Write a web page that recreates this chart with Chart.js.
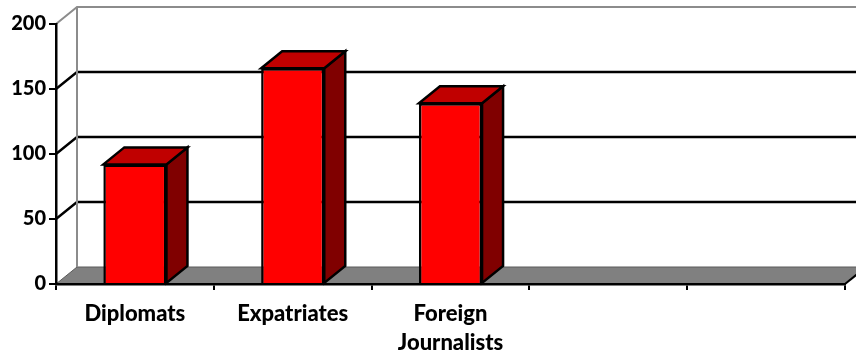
<!DOCTYPE html>
<html>
<head>
<meta charset="utf-8">
<script src="https://cdn.jsdelivr.net/npm/chart.js@4"></script>
<style>
  html, body { margin: 0; padding: 0; background: #fff; }
</style>
</head>
<body>
<canvas id="group-chart" width="856" height="358"></canvas>
<script>
// categories and values
const categories = ["Diplomats", "Expatriates", ["Foreign", "Journalists"], "", ""];
const counts = [92, 166, 139, null, null];
const yTicks = [0, 50, 100, 150, 200];

// depth of the 3d box (walls, floor, bars)
const DX = 21;
const DY = -17;

function poly(ctx, pts, fill, stroke, width) {
  ctx.beginPath();
  ctx.moveTo(pts[0][0], pts[0][1]);
  for (let i = 1; i < pts.length; i++) ctx.lineTo(pts[i][0], pts[i][1]);
  ctx.closePath();
  if (fill) { ctx.fillStyle = fill; ctx.fill(); }
  if (stroke) { ctx.strokeStyle = stroke; ctx.lineWidth = width; ctx.stroke(); }
}

function line(ctx, pts, color, width) {
  ctx.beginPath();
  ctx.moveTo(pts[0][0], pts[0][1]);
  for (let i = 1; i < pts.length; i++) ctx.lineTo(pts[i][0], pts[i][1]);
  ctx.strokeStyle = color;
  ctx.lineWidth = width;
  ctx.stroke();
}

// walls + floor, drawn before the axes
const box3d = {
  id: "box3d",
  beforeDraw(chart) {
    const { ctx, chartArea: a, scales: { y } } = chart;
    ctx.save();
    // floor
    poly(ctx, [[a.left, a.bottom], [a.right, a.bottom], [a.right + DX, a.bottom + DY], [a.left + DX, a.bottom + DY]],
      "#808080", "#5a5a5a", 1);
    line(ctx, [[a.right, a.bottom], [a.right + DX, a.bottom + DY]], "#000", 2);
    // gridlines on side + back wall
    yTicks.forEach(v => {
      if (v === yTicks[0] || v === yTicks[yTicks.length - 1]) return;
      const py = y.getPixelForValue(v);
      line(ctx, [[a.left, py], [a.left + DX, py + DY], [a.right + DX + 40, py + DY]], "#000", 2.4);
    });
    // wall edges
    const top = y.getPixelForValue(yTicks[yTicks.length - 1]);
    line(ctx, [[a.left, top], [a.left + DX, top + DY], [a.right + DX + 40, top + DY]], "#8c8c8c", 2);
    line(ctx, [[a.left + DX, top + DY], [a.left + DX, a.bottom + DY]], "#8c8c8c", 2);
    ctx.restore();
  },
  afterDatasetsDraw(chart) {
    const { ctx } = chart;
    const meta = chart.getDatasetMeta(0);
    ctx.save();
    ctx.lineJoin = "miter";
    meta.data.forEach((bar, i) => {
      if (counts[i] == null) return;
      const l = bar.x - bar.width / 2;
      const r = bar.x + bar.width / 2;
      const t = bar.y;
      const b = bar.base;
      poly(ctx, [[r, t], [r + DX, t + DY], [r + DX, b + DY], [r, b]], "#800000", "#000", 2.5);
      poly(ctx, [[l, t], [r, t], [r + DX, t + DY], [l + DX, t + DY]], "#c00000", "#000", 2.5);
    });
    ctx.restore();
  }
};

new Chart(document.getElementById("group-chart"), {
  type: "bar",
  data: {
    labels: categories,
    datasets: [{
      data: counts,
      backgroundColor: "#ff0000",
      borderColor: "#000",
      borderWidth: 2.5,
      barPercentage: 0.4,
      categoryPercentage: 1.0
    }]
  },
  options: {
    responsive: false,
    animation: false,
    devicePixelRatio: 1,
    layout: { padding: { top: 24, right: 11, left: 0, bottom: 0 } },
    plugins: { legend: { display: false }, tooltip: { enabled: false } },
    scales: {
      x: {
        grid: { drawOnChartArea: false, tickLength: 6, color: "#000", lineWidth: 2, offset: true },
        border: { display: true, color: "#000", width: 2.5 },
        ticks: {
          color: "#000",
          font: { family: "Lato", weight: 900, size: 22, lineHeight: 1.32 },
          padding: 9,
          maxRotation: 0,
          autoSkip: false
        },
        afterFit(scale) { scale.height = 74; }
      },
      y: {
        min: 0,
        max: 200,
        ticks: {
          stepSize: 50,
          color: "#000",
          font: { family: "Lato", weight: 900, size: 20 },
          padding: 3
        },
        grid: { drawOnChartArea: false, tickLength: 7, color: "#000", lineWidth: 2 },
        border: { display: true, color: "#000", width: 2.5 },
        afterFit(scale) { scale.width = 56; }
      }
    }
  },
  plugins: [box3d]
});
</script>
</body>
</html>
